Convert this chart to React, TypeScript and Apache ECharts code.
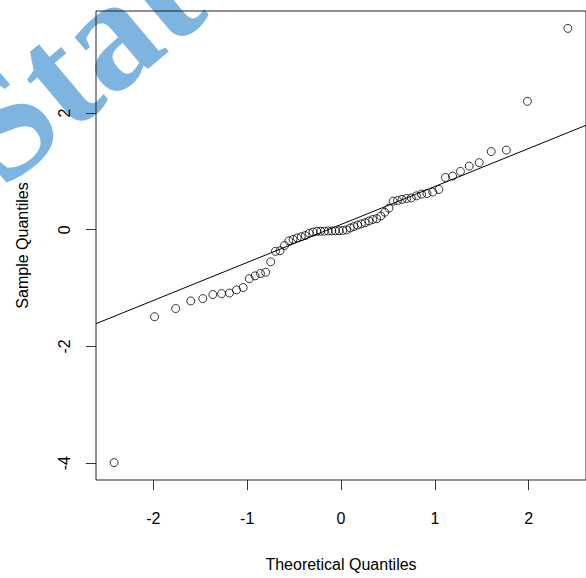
import React, { useEffect, useRef } from "react";
import * as echarts from "echarts";

// Theoretical quantiles (normal scores for n = 64)
const theoretical: number[] = [
  -2.418, -1.987, -1.762, -1.601, -1.473, -1.366, -1.273, -1.189,
  -1.113, -1.043, -0.978, -0.916, -0.8585, -0.803, -0.749, -0.699,
  -0.65, -0.602, -0.556, -0.511, -0.467, -0.424, -0.381, -0.339,
  -0.298, -0.257, -0.217, -0.177, -0.137, -0.098, -0.0588, -0.0196,
  0.0196, 0.0588, 0.098, 0.137, 0.177, 0.217, 0.257, 0.298,
  0.339, 0.381, 0.424, 0.467, 0.511, 0.556, 0.602, 0.65,
  0.699, 0.749, 0.803, 0.8585, 0.916, 0.978, 1.043, 1.113,
  1.189, 1.273, 1.366, 1.473, 1.601, 1.762, 1.987, 2.418,
];

// Sample quantiles (sorted sample values)
const sample: number[] = [
  -3.99, -1.49, -1.35, -1.22, -1.18, -1.11, -1.095, -1.085,
  -1.03, -0.99, -0.84, -0.79, -0.75, -0.73, -0.55, -0.37,
  -0.36, -0.27, -0.19, -0.165, -0.14, -0.12, -0.1, -0.06,
  -0.04, -0.028, -0.026, -0.024, -0.022, -0.02, -0.018, -0.016,
  -0.012, -0.002, 0.03, 0.055, 0.08, 0.1, 0.12, 0.15,
  0.175, 0.19, 0.235, 0.3, 0.37, 0.49, 0.5, 0.52,
  0.535, 0.545, 0.58, 0.61, 0.62, 0.645, 0.69, 0.895,
  0.92, 1.0, 1.09, 1.15, 1.34, 1.365, 2.2, 3.45,
];

// Reference line (qqline): intercept and slope
const lineIntercept = 0.09;
const lineSlope = 0.651;

const xTicks: number[] = [-2, -1, 0, 1, 2];
const yTicks: number[] = [-4, -2, 0, 2];
const xRange: [number, number] = [-2.611, 2.611];
const yRange: [number, number] = [-4.288, 3.748];

export default function App() {
  const ref = useRef<HTMLDivElement>(null);
  useEffect(() => {
    if (!ref.current) return;
    const chart = echarts.init(ref.current, null, { renderer: "svg" });
    const points = theoretical.map((x, i) => [x, sample[i]]);
    const linePts = xRange.map((x) => [x, lineIntercept + lineSlope * x]);
    const font = "Liberation Sans, Arial, sans-serif";
    chart.setOption({
      animation: false,
      backgroundColor: "#ffffff",
      graphic: [
        {
          type: "text",
          x: -32,
          y: 150,
          rotation: (40 * Math.PI) / 180,
          z: -10,
          silent: true,
          style: {
            text: "Stat",
            font: "bold 158px 'Liberation Serif', 'Times New Roman', serif",
            fill: "#7db4e0",
            textAlign: "left",
            textVerticalAlign: "middle",
          },
        },
      ],
      grid: {
        left: 96,
        top: 11,
        right: -4,
        bottom: 98,
        show: true,
        borderColor: "#222",
        borderWidth: 1,
        backgroundColor: "transparent",
      },
      xAxis: {
        type: "value",
        min: xRange[0],
        max: xRange[1],
        name: "Theoretical Quantiles",
        nameLocation: "middle",
        nameGap: 76,
        nameTextStyle: { color: "#000", fontSize: 16, fontFamily: font },
        axisLine: { show: false, onZero: false },
        splitLine: { show: false },
        axisTick: {
          show: true,
          length: 10,
          customValues: xTicks,
          lineStyle: { color: "#333", width: 1 },
        },
        axisLabel: {
          customValues: xTicks,
          color: "#000",
          fontSize: 16,
          fontFamily: font,
          margin: 30,
        },
      },
      yAxis: {
        type: "value",
        min: yRange[0],
        max: yRange[1],
        name: "Sample Quantiles",
        nameLocation: "middle",
        nameGap: 66,
        nameTextStyle: { color: "#000", fontSize: 16, fontFamily: font },
        axisLine: { show: false, onZero: false },
        splitLine: { show: false },
        axisTick: {
          show: true,
          length: 10,
          customValues: yTicks,
          lineStyle: { color: "#333", width: 1 },
        },
        axisLabel: {
          customValues: yTicks,
          rotate: 90,
          color: "#000",
          fontSize: 16,
          fontFamily: font,
          margin: 24,
        },
      },
      series: [
        {
          type: "line",
          data: linePts,
          symbol: "none",
          silent: true,
          lineStyle: { color: "#000", width: 1 },
          z: 2,
        },
        {
          type: "scatter",
          data: points,
          symbol: "circle",
          symbolSize: 8,
          itemStyle: {
            color: "rgba(0,0,0,0)",
            borderColor: "#000",
            borderWidth: 1,
          },
          z: 3,
        },
      ],
    });
    return () => chart.dispose();
  }, []);
  return (
    <div
      ref={ref}
      style={{ position: "fixed", left: 0, top: 0, width: 586, height: 578 }}
    />
  );
}
